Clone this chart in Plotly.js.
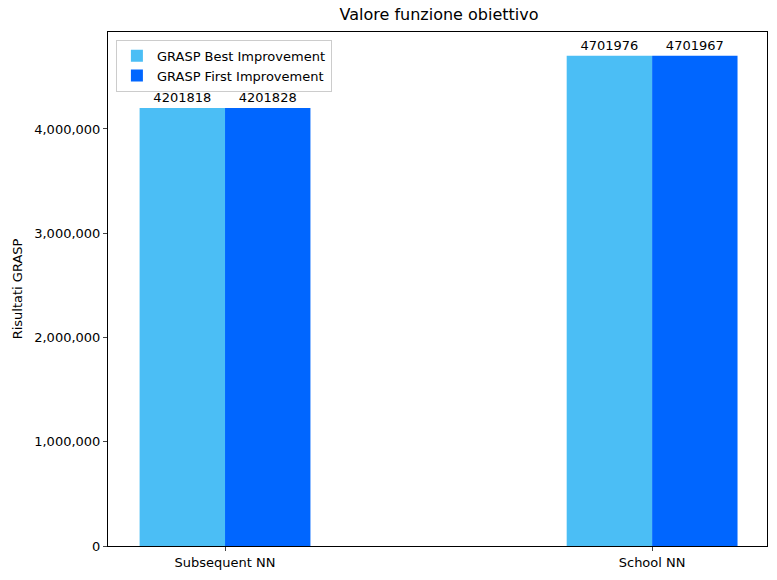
<!DOCTYPE html>
<html><head><script src="https://cdn.plot.ly/plotly-3.0.0.min.js"></script></head>
<body style="margin:0">
<div id="c" style="width:777px;height:580px"></div>
<script>
const categories = ["Subsequent NN", "School NN"];
const bestImp = [4201818, 4701976];
const firstImp = [4201828, 4701967];
const pos = categories.map((c, i) => i);
const font = {family: "DejaVu Sans", size: 13, color: "#000"};
const mk = (name, vals, col, off) => ({
  type: "bar", name: name, x: pos, y: vals, width: 0.2, offset: off,
  marker: {color: col}, text: vals.map(String), textposition: "outside",
  textfont: {family: "DejaVu Sans", size: 13, color: "#000"}, cliponaxis: false
});
Plotly.newPlot("c", [
  mk("GRASP Best Improvement", bestImp, "#4BBEF5", -0.2),
  mk("GRASP First Improvement", firstImp, "#0066FF", 0)
], {
  width: 777, height: 580, font: font,
  margin: {l: 108, r: 10, t: 32, b: 34},
  paper_bgcolor: "#fff", plot_bgcolor: "#fff",
  title: {text: "Valore funzione obiettivo", font: {family: "DejaVu Sans", size: 16}, x: 0.565, xanchor: "center", y: 0.985, yanchor: "top"},
  xaxis: {range: [-0.274, 1.269], tickvals: pos, ticktext: categories, showline: true, mirror: true, linecolor: "#000", ticks: "outside", ticklen: 4, showgrid: false, zeroline: false},
  yaxis: {range: [0, 4.93e6], tickvals: [0, 1e6, 2e6, 3e6, 4e6], tickformat: ",d", showline: true, mirror: true, linecolor: "#000", ticks: "outside", ticklen: 4, showgrid: false, zeroline: false,
    title: {text: "Risultati GRASP", font: {family: "DejaVu Sans", size: 13}, standoff: 8}},
  legend: {x: 0.012, y: 0.985, xanchor: "left", yanchor: "top", bgcolor: "rgba(255,255,255,0.8)", bordercolor: "#ccc", borderwidth: 1, font: {family: "DejaVu Sans", size: 13}},
  showlegend: true
}, {displayModeBar: false});
</script></body></html>
